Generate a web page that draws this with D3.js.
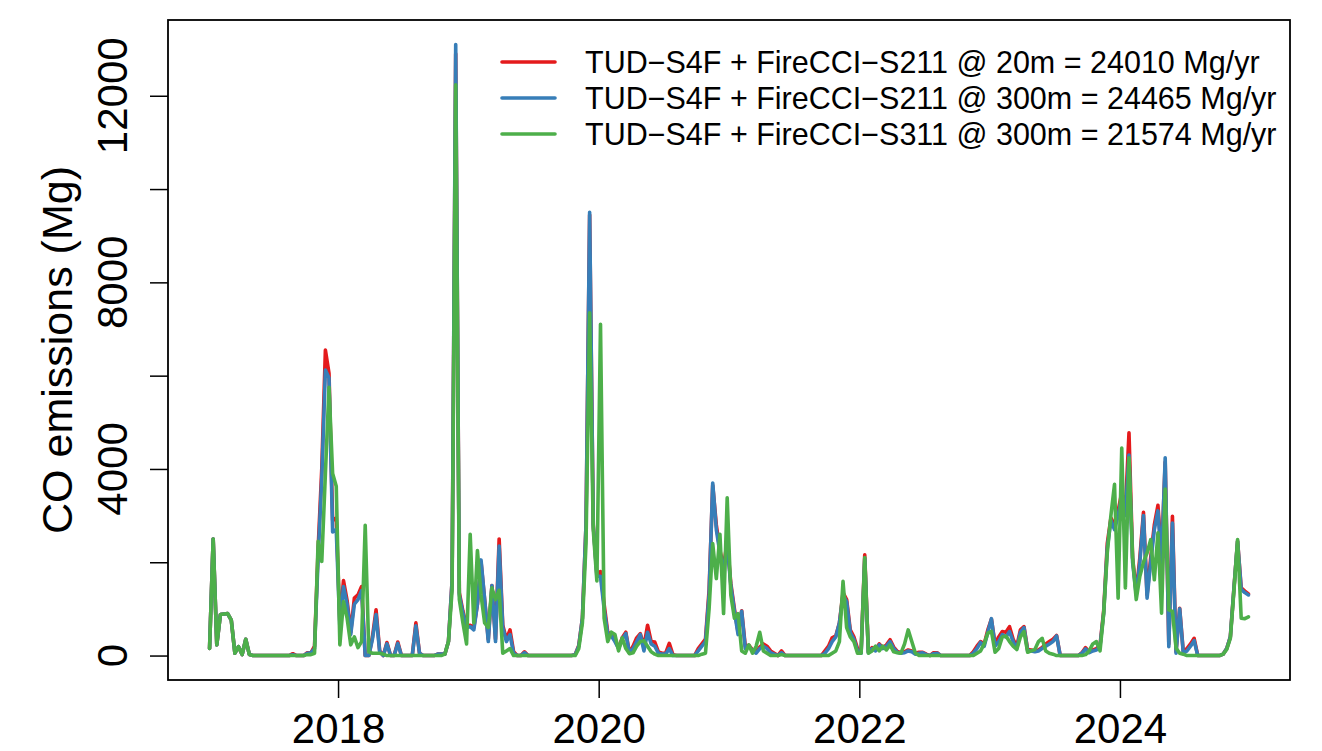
<!DOCTYPE html>
<html>
<head>
<meta charset="utf-8">
<script src="https://cdn.jsdelivr.net/npm/d3@7"></script>
<style>
  html, body { margin: 0; padding: 0; background: #fff; }
  svg text { font-family: "Liberation Sans", Arial, Helvetica, sans-serif; fill: #000; }
</style>
</head>
<body>
<svg id="chart" width="1322" height="751"></svg>
<script>
// dekadal CO emissions (Mg), 36 values per year, 2017 .. 2024
var startYear = 2017
var stepsPerYear = 36

var s211_20m = [
  150,2500,230,880,890,900,760,50,190,20,350,20,0,0,0,0,0,0,0,0,0,0,0,40,0,0,0,60,60,200,2300,4000,6550,6050,2900,2950,
  700,1610,1180,500,1230,1300,1480,0,0,400,980,100,0,280,0,0,290,0,0,0,0,700,50,0,0,0,0,30,30,30,300,1600,12900,1350,950,620,
  650,600,1100,2000,1200,350,1500,350,2500,650,350,550,80,0,0,80,0,0,0,0,0,0,0,0,0,0,0,0,0,20,220,800,2800,9450,2800,1750,
  1800,1100,500,450,320,170,380,500,60,200,380,470,200,650,300,290,80,50,50,260,20,0,0,0,0,0,0,150,250,350,1400,3650,2800,2250,1900,2450,
  1550,1000,500,960,200,220,120,80,180,250,200,100,50,0,100,0,0,0,0,0,0,0,0,0,0,0,100,200,380,420,700,1350,1200,550,400,150,
  80,2160,80,170,120,250,170,230,340,180,90,60,80,120,100,50,70,70,30,0,60,60,0,0,0,0,0,0,0,0,0,80,200,300,250,550,
  780,250,400,515,500,620,350,200,550,620,130,120,100,120,170,250,300,350,430,0,0,0,0,0,0,60,170,80,120,150,220,950,2400,2950,2800,3100,
  3500,3100,4775,2100,1350,2100,3070,1300,2100,2800,3220,2100,4150,250,2985,80,1015,80,150,250,370,0,0,0,0,0,0,0,30,150,400,1450,2450,1450,1380,1320
]

var s211_300m = [
  150,2500,230,880,890,900,760,50,190,20,350,20,0,0,0,0,0,0,0,0,0,0,0,20,0,0,0,50,60,150,2100,3800,6120,5950,2650,2700,
  600,1480,1100,450,1100,1200,1390,0,0,350,880,80,0,250,0,0,260,0,0,0,0,640,50,0,0,0,0,30,30,30,300,1600,13100,1300,900,600,
  620,550,1100,2050,1200,300,1500,300,2350,600,300,450,50,0,0,60,0,0,0,0,0,0,0,0,0,0,0,0,0,20,200,800,2800,9500,2800,1700,
  1700,1000,450,420,300,150,350,470,50,150,300,450,100,500,250,200,50,30,30,150,0,0,0,0,0,0,0,100,200,300,1300,3700,2700,2200,1800,2400,
  1500,950,450,950,150,200,100,50,150,200,150,60,30,0,60,0,0,0,0,0,0,0,0,0,0,0,50,150,300,400,700,1300,1150,500,350,100,
  50,2080,60,150,100,230,150,200,300,150,70,50,60,100,80,30,50,60,20,0,40,50,0,0,0,0,0,0,0,0,0,50,150,280,200,500,
  790,200,300,450,400,515,300,150,500,600,100,100,80,100,150,200,250,300,420,0,0,0,0,0,0,50,140,60,100,120,200,900,2300,2900,2700,3000,
  3400,3000,4300,2000,1300,2000,3000,1230,2000,2700,3100,2000,4240,190,2840,50,1000,50,100,200,320,0,0,0,0,0,0,0,30,150,400,1450,2450,1420,1350,1300
]

var s311_300m = [
  150,2500,230,880,890,900,760,50,190,20,350,20,0,0,0,0,0,0,0,0,0,0,0,0,0,0,0,20,20,50,2450,2020,3900,5750,3900,3630,
  230,1160,800,230,400,170,300,2790,80,50,50,50,30,0,0,0,0,0,0,0,0,0,0,0,0,0,0,0,0,30,300,1400,12235,1200,700,250,
  2600,700,2250,1300,700,600,1450,1200,1400,50,100,150,0,0,0,0,0,0,0,0,0,0,0,0,0,0,0,0,0,0,150,700,2400,7350,2700,1600,
  7100,800,300,500,450,100,380,150,40,60,200,300,320,200,80,30,0,0,0,0,0,0,0,0,0,0,0,0,30,50,1000,2400,1650,2600,900,3380,
  1300,800,900,100,50,230,50,200,500,100,50,0,0,0,20,0,0,0,0,0,0,0,0,0,0,0,0,0,50,100,300,1590,600,400,300,50,
  50,2100,50,100,200,100,200,120,230,80,60,50,250,550,300,50,0,0,0,0,0,0,0,0,0,0,0,0,0,0,0,0,50,100,250,480,
  520,70,150,400,420,300,200,130,400,515,70,100,130,300,370,100,50,30,0,0,0,0,0,0,0,0,20,100,250,300,100,900,2200,3000,3670,1230,
  4450,1450,4240,2090,1200,1700,2000,2200,2485,1625,2630,910,3570,980,945,160,50,30,0,0,0,0,0,0,0,0,0,0,30,130,370,1400,2485,800,790,830
]

var seriesNames = [
  'TUD\u2212S4F + FireCCI\u2212S211 @ 20m = 24010 Mg/yr',
  'TUD\u2212S4F + FireCCI\u2212S211 @ 300m = 24465 Mg/yr',
  'TUD\u2212S4F + FireCCI\u2212S311 @ 300m = 21574 Mg/yr'
]
var seriesColors = ['#E41A1C', '#377EB8', '#4DAF4A']
var seriesValues = [s211_20m, s211_300m, s311_300m]

var xTicks = [2018, 2020, 2022, 2024]
var yTicks = [0, 2000, 4000, 6000, 8000, 10000, 12000]
var yLabelTicks = [0, 4000, 8000, 12000]

;(function() {
  var svg = d3.select('#chart')
  var mLeft = 168, mRight = 1290, mTop = 20, mBottom = 680

  var dates = s211_20m.map(function(d, i) { return startYear + (i + 0.5) / stepsPerYear })

  // R style axis extension, 4% each side
  var xMin = d3.min(dates), xMax = d3.max(dates)
  var xPad = (xMax - xMin) * 0.04
  var x = d3.scaleLinear().domain([xMin - xPad, xMax + xPad]).range([mLeft, mRight])

  var yMax = d3.max(seriesValues, function(s) { return d3.max(s) })
  var yPad = yMax * 0.04
  var y = d3.scaleLinear().domain([-yPad, yMax + yPad]).range([mBottom, mTop])

  var line = d3.line()
    .x(function(d, i) { return x(dates[i]) })
    .y(function(d) { return y(d) })

  svg.append('g')
    .selectAll('path')
    .data(seriesValues)
    .enter()
    .append('path')
    .attr('d', line)
    .attr('fill', 'none')
    .attr('stroke', function(d, i) { return seriesColors[i] })
    .attr('stroke-width', 3.6)
    .attr('stroke-linejoin', 'round')
    .attr('stroke-linecap', 'round')

  // box
  svg.append('rect')
    .attr('x', mLeft).attr('y', mTop)
    .attr('width', mRight - mLeft).attr('height', mBottom - mTop)
    .attr('fill', 'none').attr('stroke', '#000').attr('stroke-width', 1.8)

  // x axis
  var xAxis = svg.append('g').attr('transform', 'translate(0,' + mBottom + ')')
    .call(d3.axisBottom(x).tickValues(xTicks).tickFormat(d3.format('d')).tickSize(18).tickPadding(15))
  xAxis.select('.domain').remove()
  xAxis.selectAll('line').attr('stroke', '#000').attr('stroke-width', 1.5)
  xAxis.selectAll('text').style('font-size', '42px').attr('font-family', null)

  // y axis
  var yAxis = svg.append('g').attr('transform', 'translate(' + mLeft + ',0)')
    .call(d3.axisLeft(y).tickValues(yTicks).tickFormat('').tickSize(18))
  yAxis.select('.domain').remove()
  yAxis.selectAll('line').attr('stroke', '#000').attr('stroke-width', 1.5)

  svg.append('g')
    .selectAll('text')
    .data(yLabelTicks)
    .enter()
    .append('text')
    .attr('transform', function(d) { return 'translate(127,' + y(d) + ') rotate(-90)' })
    .attr('text-anchor', 'middle')
    .style('font-size', '42px')
    .text(function(d) { return d })

  svg.append('text')
    .attr('transform', 'translate(72,' + (mTop + mBottom) / 2 + ') rotate(-90)')
    .attr('text-anchor', 'middle')
    .style('font-size', '43px')
    .text('CO emissions (Mg)')

  // legend
  var legend = svg.append('g')
    .selectAll('g')
    .data(seriesNames)
    .enter()
    .append('g')
    .attr('transform', function(d, i) { return 'translate(0,' + (62 + i * 36) + ')' })

  legend.append('line')
    .attr('x1', 502).attr('x2', 555)
    .attr('stroke', function(d, i) { return seriesColors[i] })
    .attr('stroke-width', 3.6)
    .attr('stroke-linecap', 'round')

  legend.append('text')
    .attr('x', 585)
    .attr('dy', '0.35em')
    .style('font-size', '30.5px')
    .text(function(d) { return d })
})()
</script>
</body>
</html>
